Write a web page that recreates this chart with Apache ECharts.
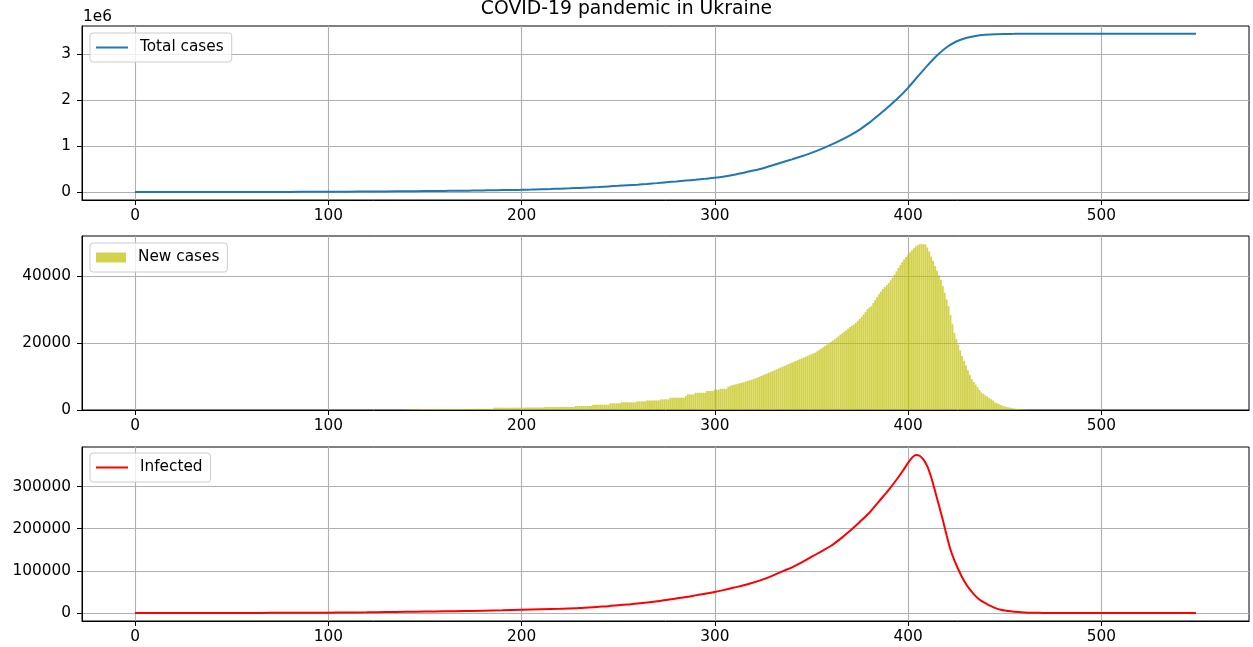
<!DOCTYPE html>
<html>
<head>
<meta charset="utf-8">
<script src="https://cdn.jsdelivr.net/npm/echarts@6/dist/echarts.min.js"></script>
<style>
html,body{margin:0;padding:0;background:#fff;}
#chart{width:1253px;height:647px;}
</style>
</head>
<body>
<div id="chart"></div>
<script>
// ---- data ----
const xTicks = [0, 100, 200, 300, 400, 500];
const totalTicks = [0, 1000000, 2000000, 3000000];
const newTicks = [0, 20000, 40000];
const infectedTicks = [0, 100000, 200000, 300000];

const totalDays = [0,10,20,30,40,50,60,70,80,90,100,110,120,130,140,150,155,160,165,170,175,180,185,190,195,
  200,205,210,215,220,225,230,235,240,245,250,255,260,265,270,275,280,285,290,295,
  300,305,310,315,320,325,330,335,340,345,350,355,360,365,370,375,380,385,390,395,
  400,405,410,415,420,425,430,435,440,445,450,455,460,470,480,490,500,510,520,530,540,549];
const totalCases = [0,300,600,900,1300,2000,2700,3500,4500,6000,8000,10000,12500,15000,18000,22000,24000,26000,28000,30500,33000,36000,39000,43000,46500,
  50000,55000,61000,67000,74000,82000,91000,101000,112000,124000,136000,149000,162000,177000,195000,215000,232000,250000,268000,288000,
  310000,340000,378000,422000,468000,520000,585000,648000,712000,778000,852000,935000,1025000,1125000,1235000,1360000,1510000,1680000,1860000,2050000,
  2268000,2510000,2750000,2970000,3150000,3275000,3350000,3395000,3420000,3435000,3440000,3441000,3442000,3442000,3442000,3442000,3442000,3442000,3442000,3442000,3442000,3442000];

const newCasesStartDay = 140;
const newCases = [
  0,150,150,150,200,200,250,250,300,300,
  300,300,300,300,300,300,300,300,300,300,
  300,300,300,300,300,300,300,300,300,300,
  300,300,300,300,300,350,350,350,350,350,
  350,350,350,350,350,350,700,700,700,700,
  700,700,700,700,700,700,700,700,700,700,
  700,700,750,750,750,750,750,750,750,750,
  750,750,900,900,900,900,900,900,900,900,
  900,900,900,900,900,900,900,900,1200,1200,
  1200,1200,1200,1200,1200,1200,1200,1600,1600,1600,
  1600,1600,1600,1600,1600,1600,2000,2000,2000,2000,
  2000,2000,2300,2300,2300,2300,2300,2300,2300,2300,
  2570,2570,2570,2570,2570,2870,2870,2870,2870,2870,
  2870,2870,3170,3170,3170,3170,3170,3660,3660,3660,
  3660,3660,3660,3660,3660,4160,4650,4650,4650,4650,
  5140,5140,5140,5140,5140,5140,5640,5640,5640,5640,
  6040,6040,6040,6340,6340,6340,6340,6930,7200,7400,
  7550,7700,7850,8000,8150,8300,8500,8700,8850,9000,
  9200,9420,9650,9900,10150,10400,10650,10900,11150,11400,
  11650,11900,12150,12400,12650,12900,13150,13400,13660,13900,
  14150,14400,14650,14900,15150,15400,15650,15900,16150,16400,
  16650,16900,17100,17500,17900,18300,18700,19100,19500,19900,
  20300,20700,21100,21550,22000,22450,22900,23350,23800,24300,
  24800,25150,25500,26000,26600,27200,27800,28500,29300,30100,
  30600,31000,31900,32800,33700,34600,35400,36100,36700,37300,
  37900,38700,39500,40400,41400,42400,43300,44200,45000,45700,
  46300,47000,47700,48300,48800,49200,49500,49500,49500,49400,
  48500,47300,45800,44500,43000,41600,40200,38900,37000,35000,
  33000,31000,28300,25600,23000,21200,19500,17800,16100,14700,
  13300,11900,10500,9200,8400,7600,6800,6000,5200,4800,
  4400,4000,3600,3200,2800,2260,2000,1750,1500,1250,
  1050,900,770,650,550,450,370,300,230,180,
  140,100,70,40,20,0
];

const infectedDays = [0,10,20,30,40,50,60,70,80,90,100,110,120,130,140,150,160,170,180,190,
  200,210,220,230,240,245,250,255,260,265,270,275,280,285,290,295,300,305,310,315,320,325,330,335,340,345,350,355,360,365,370,375,380,385,390,395,398,
  400,402,404,406,408,410,412,414,416,418,420,422,424,426,428,430,432,434,436,438,440,442,444,446,448,450,455,460,465,470,480,490,500,510,520,530,540,549];
const infectedValues = [100,150,200,250,300,350,450,550,700,850,1000,1300,1800,2400,3000,3500,4100,4700,5500,6500,
  7700,9000,10300,12000,15000,16500,18500,20500,22500,25000,28000,31000,34500,38000,42000,46000,50000,55000,60500,66000,72500,80000,89000,99000,108500,120000,133000,146000,159000,176000,195000,216000,238000,265000,292000,322000,342000,
  356000,368000,375000,373000,364000,348000,322000,289000,255000,221000,184000,150000,125000,104000,85000,69000,56000,45000,36000,29000,23400,18500,14000,10500,7700,6000,3000,1500,800,500,200,100,50,20,10,0,0,0];

// ---- chart ----
const FONT = 'DejaVu Sans';
const TICK_FS = 15.3;
const chart = echarts.init(document.getElementById('chart'), null, {renderer: 'canvas'});

const pairs = (xs, ys) => xs.map((x, i) => [x, ys[i]]);
const newCasePairs = newCases.map((v, i) => [newCasesStartDay + i, v]);

function xAxis(idx) {
  return {
    type: 'value', gridIndex: idx, min: -27.45, max: 576.45,
    axisLine: {show: true, onZero: false, lineStyle: {color: '#000', width: 1}},
    axisTick: {show: true, length: 5, lineStyle: {color: '#000', width: 1}, customValues: xTicks},
    axisLabel: {color: '#000', fontSize: TICK_FS, fontFamily: FONT, margin: 9, customValues: xTicks},
    splitLine: {show: true, lineStyle: {color: '#b0b0b0', width: 1.1}}
  };
}
function yAxis(idx, min, max, ticks, fmt) {
  return {
    type: 'value', gridIndex: idx, min: min, max: max,
    axisLine: {show: true, onZero: false, lineStyle: {color: '#000', width: 1}},
    axisTick: {show: true, length: 5, lineStyle: {color: '#000', width: 1}, customValues: ticks},
    axisLabel: {color: '#000', fontSize: TICK_FS, fontFamily: FONT, margin: 11, customValues: ticks,
      formatter: fmt || (v => String(v))},
    splitLine: {show: true, lineStyle: {color: '#b0b0b0', width: 1.1}}
  };
}
function legend(name, top, iconW, iconH, color) {
  return {
    data: [{name: name, icon: 'rect', itemStyle: {color: color}}],
    left: 90, top: top, orient: 'horizontal',
    itemWidth: iconW, itemHeight: iconH,
    padding: [7, 8, 7, 6],
    backgroundColor: 'rgba(255,255,255,0.8)',
    borderColor: '#cccccc', borderWidth: 1, borderRadius: 3,
    selectedMode: false,
    textStyle: {fontSize: TICK_FS, color: '#000', fontFamily: FONT, padding: [0, 0, 0, 7]}
  };
}

const option = {
  animation: false,
  backgroundColor: '#fff',
  textStyle: {fontFamily: FONT},
  title: {
    text: 'COVID-19 pandemic in Ukraine', left: 'center', top: -5,
    textStyle: {fontSize: 18.8, fontWeight: 'normal', color: '#000', fontFamily: FONT}
  },
  graphic: [{
    type: 'text', left: 83, top: 10,
    style: {text: '1e6', fontSize: TICK_FS, fontFamily: FONT, fill: '#000'}
  }],
  grid: [
    {left: 82, top: 26, width: 1167, height: 174, show: true, borderColor: '#000', borderWidth: 1, backgroundColor: 'transparent'},
    {left: 82, top: 236, width: 1167, height: 174, show: true, borderColor: '#000', borderWidth: 1, backgroundColor: 'transparent'},
    {left: 82, top: 447, width: 1167, height: 174, show: true, borderColor: '#000', borderWidth: 1, backgroundColor: 'transparent'}
  ],
  xAxis: [xAxis(0), xAxis(1), xAxis(2)],
  yAxis: [
    yAxis(0, -172000, 3612000, totalTicks, v => String(Math.round(v / 1e6))),
    yAxis(1, 0, 51940, newTicks),
    yAxis(2, -18750, 393750, infectedTicks)
  ],
  legend: [
    legend('Total cases', 33, 32, 2, '#1f77b4'),
    legend('New cases', 243, 30, 10, 'rgba(191,191,0,0.7)'),
    legend('Infected', 453, 32, 2, '#ff0000')
  ],
  series: [
    {
      name: 'Total cases', type: 'line', xAxisIndex: 0, yAxisIndex: 0,
      data: pairs(totalDays, totalCases), symbol: 'none', showSymbol: false,
      smooth: 0.3,
      lineStyle: {color: '#1f77b4', width: 2}, itemStyle: {color: '#1f77b4'}
    },
    {
      name: 'New cases', type: 'bar', xAxisIndex: 1, yAxisIndex: 1,
      data: newCasePairs, barWidth: 1.8,
      itemStyle: {color: 'rgba(191,191,0,0.7)'}
    },
    {
      name: 'Infected', type: 'line', xAxisIndex: 2, yAxisIndex: 2,
      data: pairs(infectedDays, infectedValues), symbol: 'none', showSymbol: false,
      smooth: 0.3,
      lineStyle: {color: '#ff0000', width: 2}, itemStyle: {color: '#ff0000'}
    }
  ]
};
chart.setOption(option);
</script>
</body>
</html>
